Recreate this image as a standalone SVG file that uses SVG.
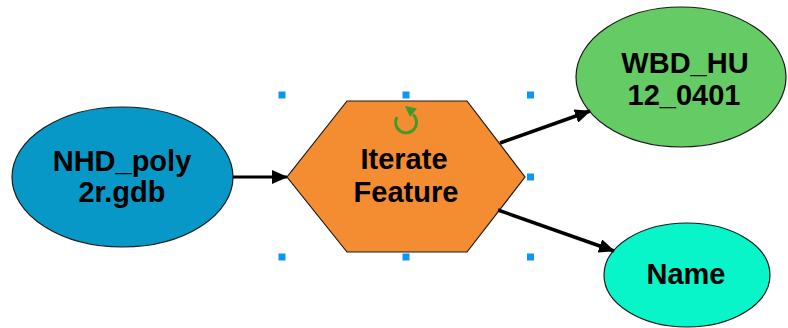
<svg xmlns="http://www.w3.org/2000/svg" width="788" height="328" viewBox="0 0 788 328">
  <style>
    .lbl { font-family: "Liberation Sans", Arial, sans-serif; font-weight: bold; font-size: 29px; fill: #000; text-anchor: middle; }
    .shape { stroke: #1a1a1a; stroke-width: 1.2; }
    .conn { stroke: #000; fill: none; }
    .handle { fill: #0a96f5; }
  </style>
  <defs>
    <marker id="arrow" viewBox="0 0 16 14" refX="15" refY="7" markerWidth="16" markerHeight="14" orient="auto" markerUnits="userSpaceOnUse">
      <path d="M0,0 L16,7 L0,14 Z" fill="#000"/>
    </marker>
  </defs>
  <rect width="788" height="328" fill="#fff"/>

  <g id="nhd">
    <ellipse class="shape" cx="122.5" cy="177" rx="110.5" ry="70" fill="#0898c8"/>
    <text class="lbl" x="122" y="171">NHD_poly</text>
    <text class="lbl" x="122" y="202">2r.gdb</text>
  </g>

  <g id="iterate">
    <polygon class="shape" points="347,101 467,101 525,177 467,252 347,252 287,177" fill="#f48c32"/>
    <path d="M397,117 A10.5,10.5 0 1 0 413,114.5" fill="none" stroke="#3f9a2c" stroke-width="2.8"/>
    <polygon points="405,106 417,108.5 410,117" fill="#3f9a2c"/>
    <text class="lbl" x="404" y="168.5">Iterate</text>
    <text class="lbl" x="406" y="201.5">Feature</text>
  </g>

  <g id="wbd">
    <ellipse class="shape" cx="681" cy="77" rx="105" ry="70" fill="#65cb65"/>
    <text class="lbl" x="685" y="73">WBD_HU</text>
    <text class="lbl" x="684" y="105">12_0401</text>
  </g>

  <g id="name">
    <ellipse class="shape" cx="687" cy="275" rx="83" ry="52" fill="#07f5c8"/>
    <text class="lbl" x="686" y="284">Name</text>
  </g>

  <g id="handles">
    <rect class="handle" x="278.5" y="91.5" width="7" height="7"/>
    <rect class="handle" x="402.5" y="91.5" width="7" height="7"/>
    <rect class="handle" x="527" y="91.5" width="7" height="7"/>
    <rect class="handle" x="527" y="173.5" width="7" height="7"/>
    <rect class="handle" x="278.5" y="253.5" width="7" height="7"/>
    <rect class="handle" x="402.5" y="253.5" width="7" height="7"/>
    <rect class="handle" x="527" y="253.5" width="7" height="7"/>
  </g>

  <g id="connectors">
    <line class="conn" x1="233" y1="177" x2="287" y2="177" stroke-width="3" marker-end="url(#arrow)"/>
    <line class="conn" x1="500" y1="143" x2="590" y2="111" stroke-width="3.5" marker-end="url(#arrow)"/>
    <line class="conn" x1="498" y1="210" x2="614" y2="251" stroke-width="3.5" marker-end="url(#arrow)"/>
  </g>
</svg>
